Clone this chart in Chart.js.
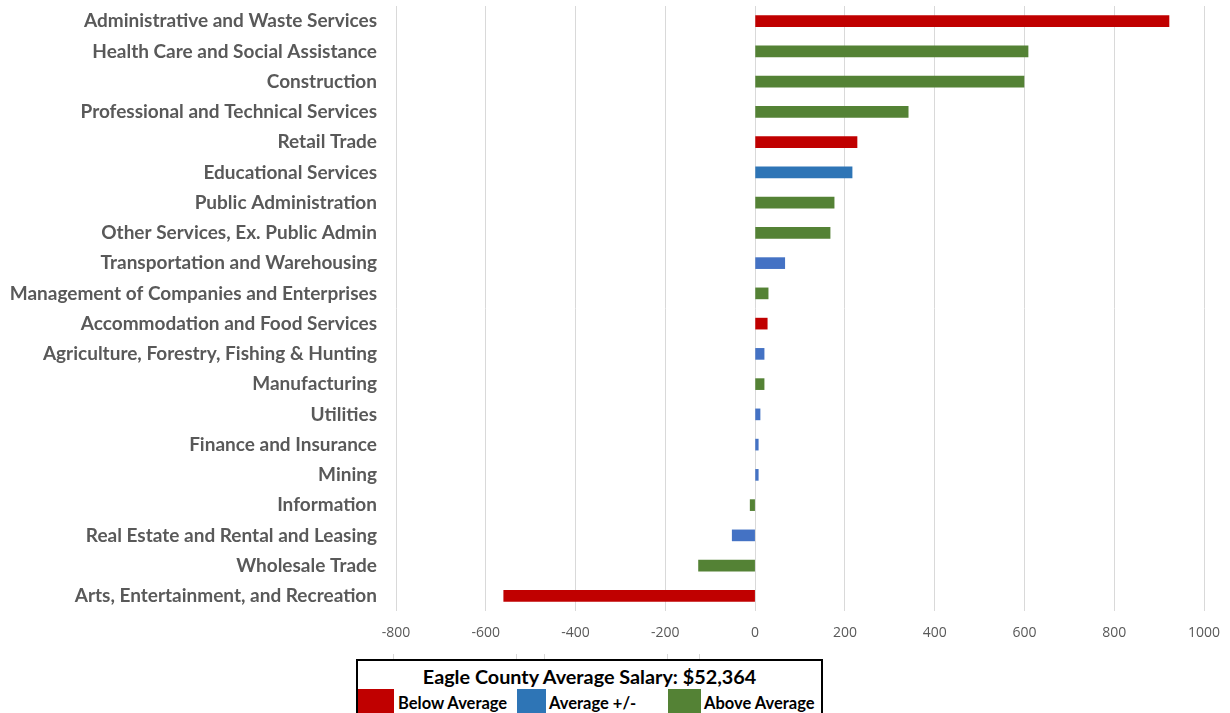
<!DOCTYPE html>
<html>
<head>
<meta charset="utf-8">
<script src="https://cdn.jsdelivr.net/npm/chart.js@4.4.1/dist/chart.umd.min.js"></script>
<style>
  html, body { margin: 0; padding: 0; background: #fff; width: 1230px; height: 713px; overflow: hidden; }
  #wrap { position: absolute; left: 0; top: 0; width: 1230px; height: 652px; }
  #legend { position: absolute; left: 356px; top: 659px; width: 463px; height: 60px;
            border: 2px solid #000; box-sizing: content-box; font-family: Lato, "Open Sans", sans-serif; font-weight: bold; color: #000; }
  #legend .title { position: absolute; left: 0; top: 0; width: 463px; height: 28px; text-align: center; font-size: 19.8px; line-height: 30px; }
  #legend .sw { position: absolute; top: 28px; height: 40px; }
  #legend .lbl { position: absolute; top: 29px; font-size: 16.5px; line-height: 26px; white-space: nowrap; }
  .vl { position: absolute; top: 654px; width: 1px; height: 5px; background: #D9D9D9; }
</style>
</head>
<body>
<div id="wrap"><canvas id="c" width="1230" height="652"></canvas></div>
<div id="legend"></div>
<script>
const categories = [
  "Administrative and Waste Services",
  "Health Care and Social Assistance",
  "Construction",
  "Professional and Technical Services",
  "Retail Trade",
  "Educational Services",
  "Public Administration",
  "Other Services, Ex. Public Admin",
  "Transportation and Warehousing",
  "Management of Companies and Enterprises",
  "Accommodation and Food Services",
  "Agriculture, Forestry, Fishing & Hunting",
  "Manufacturing",
  "Utilities",
  "Finance and Insurance",
  "Mining",
  "Information",
  "Real Estate and Rental and Leasing",
  "Wholesale Trade",
  "Arts, Entertainment, and Recreation"
];
const values = [922, 608, 599, 341, 227, 216, 176, 167, 66, 29, 27, 20, 20, 11, 7, 7, -11, -51, -126, -560];
const groups = ["below", "above", "above", "above", "below", "average", "above", "above", "average", "above",
                "below", "average", "above", "average", "average", "average", "above", "average", "above", "below"];
const xTicks = [-800, -600, -400, -200, 0, 200, 400, 600, 800, 1000];
const legendTitle = "Eagle County Average Salary: $52,364";
const legendItems = [
  { key: "below", label: "Below Average" },
  { key: "average", label: "Average +/-" },
  { key: "above", label: "Above Average" }
];

const barColors = { below: "#C00000", average: "#4472C4", above: "#548235" };
const legendColors = { below: "#C00000", average: "#2E75B6", above: "#548235" };
const colors = groups.map((g, i) => (categories[i] === "Educational Services" ? "#2E75B6" : barColors[g]));

const mctx = document.createElement("canvas").getContext("2d");
function fitSize(text, family, weight, target) {
  mctx.font = weight + " 20px " + family;
  const w = mctx.measureText(text).width;
  return 20 * target / w;
}
const yFamily = "Lato";
const ySize = fitSize("Administrative and Waste Services", yFamily, "bold", 293);

new Chart(document.getElementById("c"), {
  type: "bar",
  data: {
    labels: categories,
    datasets: [{ data: values, backgroundColor: colors, barThickness: 11, borderWidth: 0 }]
  },
  options: {
    indexAxis: "y",
    responsive: false,
    animation: false,
    maintainAspectRatio: false,
    layout: { padding: { top: 6, right: 26, left: 0, bottom: 0 } },
    plugins: { legend: { display: false }, tooltip: { enabled: false } },
    scales: {
      x: {
        min: -800, max: 1000,
        afterBuildTicks: (s) => { s.ticks = xTicks.map(v => ({ value: v })); },
        afterFit: (s) => { s.height = 652 - 6 - 605; s.paddingLeft = 0; s.paddingRight = 0; },
        grid: { color: "#D9D9D9", lineWidth: 1, drawTicks: false },
        border: { display: false },
        ticks: { color: "#595959", font: { family: "Open Sans", size: 14 }, padding: 14,
                 callback: (v) => String(v) }
      },
      y: {
        afterFit: (s) => { s.width = 396; s.paddingTop = 0; s.paddingBottom = 0; },
        grid: { display: false, drawTicks: false },
        border: { display: false },
        ticks: { color: "#595959", font: { family: yFamily, size: ySize, weight: "bold" }, padding: 19, autoSkip: false }
      }
    }
  }
});

const lg = document.getElementById("legend");
const t = document.createElement("div");
t.className = "title"; t.textContent = legendTitle; lg.appendChild(t);
const swPos = [[0, 36], [159, 29], [310, 33]];
const lblPos = [40, 191, 346];
legendItems.forEach((it, i) => {
  const s = document.createElement("div");
  s.className = "sw"; s.style.left = swPos[i][0] + "px"; s.style.width = swPos[i][1] + "px";
  s.style.background = legendColors[it.key]; lg.appendChild(s);
  const l = document.createElement("div");
  l.className = "lbl"; l.style.left = lblPos[i] + "px"; l.textContent = it.label; lg.appendChild(l);
});
[393, 516, 544, 667, 699].forEach(x => {
  const v = document.createElement("div"); v.className = "vl"; v.style.left = x + "px"; document.body.appendChild(v);
});
</script>
</body>
</html>
